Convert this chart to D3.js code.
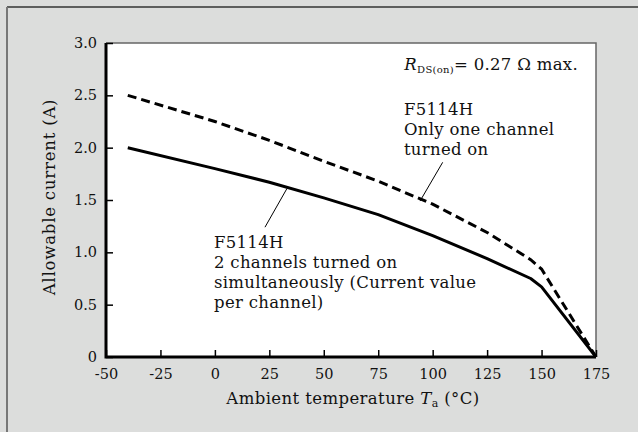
<!DOCTYPE html>
<html>
<head>
<meta charset="utf-8">
<script src="https://cdn.jsdelivr.net/npm/d3@7"></script>
<style>
  body { margin: 0; background: #dcdddc; }
  svg { display: block; font-family: "DejaVu Serif", serif; }
</style>
</head>
<body>
<svg id="chart" width="638" height="432"></svg>
<script>
// temperatures (°C) and allowable current (A)
const tempOne = [-40, 0, 25, 50, 75, 100, 125, 145, 150, 175];
const currentOne = [2.5, 2.25, 2.07, 1.87, 1.68, 1.46, 1.19, 0.93, 0.84, 0];
const tempTwo = [-40, 0, 25, 50, 75, 100, 125, 145, 150, 175];
const currentTwo = [2.0, 1.80, 1.67, 1.52, 1.36, 1.16, 0.94, 0.75, 0.67, 0];

const xTicks = [-50, -25, 0, 25, 50, 75, 100, 125, 150, 175];
const yTicks = [0, 0.5, 1.0, 1.5, 2.0, 2.5, 3.0];

// leader lines for the two labels, in data units
const leaderOne = [[104.6, 1.86], [94.2, 1.49]];
const leaderTwo = [[33.1, 1.61], [23, 1.24]];

const labelOne = ["F5114H", "Only one channel", "turned on"];
const labelTwo = ["F5114H", "2 channels turned on", "simultaneously (Current value", "per channel)"];

const svg = d3.select("#chart");
const margin = {top: 43, right: 42, bottom: 75, left: 106};
const width = 638 - margin.left - margin.right;
const height = 432 - margin.top - margin.bottom;

// outer frame (only top and left edges show)
svg.append("line").attr("x1", 7).attr("y1", 7).attr("x2", 638).attr("y2", 7)
    .attr("stroke", "#333").attr("stroke-width", 1.5);
svg.append("line").attr("x1", 7).attr("y1", 7).attr("x2", 7).attr("y2", 432)
    .attr("stroke", "#777").attr("stroke-width", 2);

const g = svg.append("g").attr("transform", "translate(" + margin.left + "," + margin.top + ")");

const x = d3.scaleLinear().domain([-50, 175]).range([0, width]);
const y = d3.scaleLinear().domain([0, 3]).range([height, 0]);

g.append("rect").attr("width", width).attr("height", height).attr("fill", "#fff");

// top and right border, thin gray
g.append("path")
    .attr("d", "M0,0H" + width + "V" + height)
    .attr("fill", "none").attr("stroke", "#666").attr("stroke-width", 1.5);

const xAxis = g.append("g")
    .attr("transform", "translate(0," + height + ")")
    .call(d3.axisBottom(x).tickValues(xTicks).tickSize(-7).tickPadding(12)
        .tickFormat(function (d) { return String(d); }));
const yAxis = g.append("g")
    .call(d3.axisLeft(y).tickValues(yTicks).tickSize(-7).tickPadding(9)
        .tickFormat(function (d) { return d === 0 ? "0" : d.toFixed(1); }));

[xAxis, yAxis].forEach(function (a) {
    a.select(".domain").remove();
    a.selectAll(".tick line").attr("stroke", "#000").attr("stroke-width", 1.5);
    a.selectAll(".tick text").attr("font-family", "DejaVu Serif").attr("font-size", 14.5).attr("fill", "#111");
});

// left and bottom axis lines, thick black
g.append("path")
    .attr("d", "M0,0V" + height + "H" + width)
    .attr("fill", "none").attr("stroke", "#000").attr("stroke-width", 3);

const line = d3.line()
    .x(function (d) { return x(d[0]); })
    .y(function (d) { return y(d[1]); });

g.append("path")
    .attr("d", line(d3.zip(tempOne, currentOne)))
    .attr("fill", "none").attr("stroke", "#000").attr("stroke-width", 3)
    .attr("stroke-dasharray", "9,5");
g.append("path")
    .attr("d", line(d3.zip(tempTwo, currentTwo)))
    .attr("fill", "none").attr("stroke", "#000").attr("stroke-width", 3)
    .attr("stroke-linejoin", "round");

[leaderOne, leaderTwo].forEach(function (l) {
    g.append("path").attr("d", line(l))
        .attr("stroke", "#000").attr("stroke-width", 1);
});

function block(lines, tx, ty) {
    const t = g.append("text")
        .attr("font-size", 16.5).attr("letter-spacing", 0.3).attr("fill", "#111");
    lines.forEach(function (s, i) {
        t.append("tspan").attr("x", x(tx)).attr("y", y(ty) + i * 20).text(s);
    });
}
block(labelOne, 86.8, 2.31);
block(labelTwo, -0.4, 1.04);

// R_DS(on) note
const note = g.append("text").attr("x", x(87)).attr("y", y(2.74))
    .attr("font-size", 16.5).attr("letter-spacing", 0.3).attr("fill", "#111");
note.append("tspan").attr("font-style", "italic").text("R");
note.append("tspan").attr("font-size", 10).attr("dy", 3).text("DS(on)");
note.append("tspan").attr("dy", -3).text("= 0.27 \u03A9 max.");

// axis titles
const xt = g.append("text").attr("x", width / 2 + 2).attr("y", height + 47)
    .attr("text-anchor", "middle").attr("font-size", 16.5).attr("letter-spacing", 0.4).attr("fill", "#111");
xt.append("tspan").text("Ambient temperature ");
xt.append("tspan").attr("font-style", "italic").text("T");
xt.append("tspan").attr("font-size", 11).attr("dy", 3).text("a");
xt.append("tspan").attr("dy", -3).text(" (\u00B0C)");

g.append("text")
    .attr("transform", "translate(-51," + (height / 2 - 3) + ") rotate(-90)")
    .attr("text-anchor", "middle").attr("font-size", 16.5).attr("letter-spacing", 0.8).attr("fill", "#111")
    .text("Allowable current (A)");
</script>
</body>
</html>
